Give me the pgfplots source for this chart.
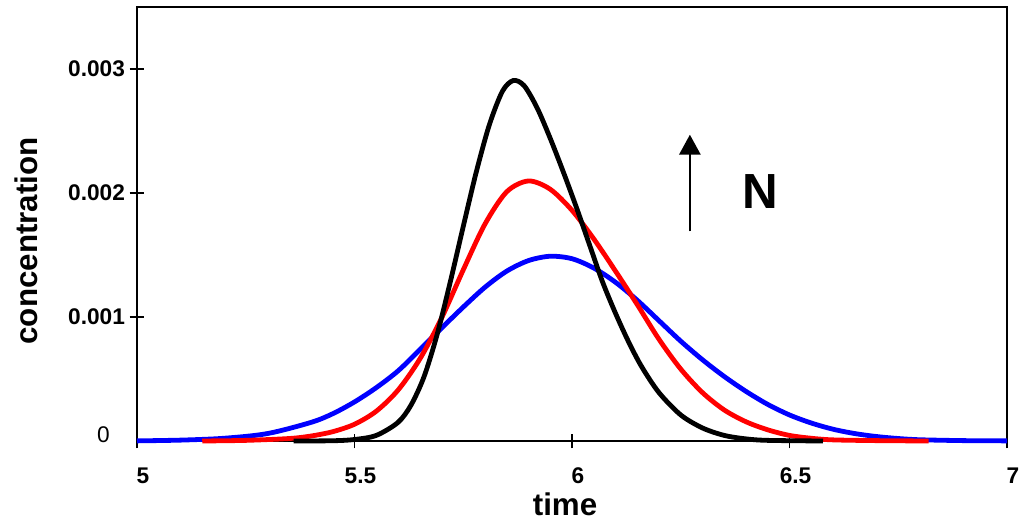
\documentclass[border=0pt]{standalone}
\usepackage{fontspec}
\setmainfont{Liberation Sans}
\usepackage{pgfplots}
\pgfplotsset{compat=1.18}
\usetikzlibrary{arrows.meta,calc}
\begin{document}
\begin{tikzpicture}
\begin{axis}[
scale only axis,
width=652.5pt, height=325.5pt,
xmin=5, xmax=7, ymin=0, ymax=0.0035,
clip=false,
scaled y ticks=false,
axis line style={line width=1.5pt},
tick style={line width=1.1pt, black},
tick align=center,
xtick pos=lower, ytick pos=left,
major tick length=11pt,
xtick={5,5.5,6,6.5,7},
xticklabels={5,5.5,6,6.5,7},
ytick={0.001,0.002,0.003},
yticklabels={0.001,0.002,0.003},
/pgf/number format/assume math mode=true,
ticklabel style={font=\fontsize{17}{20}\selectfont\bfseries},
xticklabel style={xshift=4.5pt, yshift=-11pt},
xlabel={time},
ylabel={concentration},
label style={font=\fontsize{23.5}{26}\selectfont\bfseries},
xlabel style={at={(axis description cs:0.492,-0.147)}, anchor=center},
ylabel style={at={(axis description cs:-0.1276,0.461)}, anchor=center},
]
% N = small (blue)
\addplot[blue, line width=3.6pt, smooth] coordinates {
(5.00,0.000001) (5.10,0.000007) (5.20,0.000022) (5.30,0.000060) (5.40,0.000150)
(5.45,0.000220) (5.50,0.000315) (5.55,0.000430) (5.60,0.000565) (5.65,0.000735)
(5.70,0.000910) (5.75,0.001080) (5.80,0.001240) (5.85,0.001370) (5.90,0.001455)
(5.95,0.001490) (6.00,0.001470) (6.05,0.001395) (6.10,0.001280) (6.15,0.001135)
(6.20,0.000970) (6.25,0.000805) (6.30,0.000655) (6.35,0.000520) (6.40,0.000400)
(6.45,0.000295) (6.50,0.000210) (6.55,0.000145) (6.60,0.000095) (6.65,0.000060)
(6.70,0.000036) (6.75,0.000020) (6.80,0.000010) (6.90,0.000003) (7.00,0.000001)};
% N = medium (red)
\addplot[red, line width=3.6pt, smooth] coordinates {
(5.15,0) (5.25,0.000005) (5.35,0.000020) (5.40,0.000040) (5.45,0.000075)
(5.50,0.000135) (5.55,0.000240) (5.60,0.000410) (5.65,0.000660) (5.70,0.000990)
(5.75,0.001380) (5.80,0.001750) (5.85,0.002010) (5.90,0.002097) (5.95,0.002030)
(6.00,0.001860) (6.05,0.001630) (6.10,0.001370) (6.15,0.001100) (6.20,0.000820)
(6.25,0.000580) (6.30,0.000390) (6.35,0.000250) (6.40,0.000155) (6.45,0.000090)
(6.50,0.000045) (6.55,0.000022) (6.60,0.000009) (6.70,0.000003) (6.82,0)};
% N = large (black)
\addplot[black, line width=3.6pt, smooth] coordinates {
(5.36,0) (5.45,0.000002) (5.50,0.000012) (5.55,0.000045) (5.60,0.000150)
(5.63,0.000290) (5.66,0.000520) (5.69,0.000860) (5.72,0.001280) (5.75,0.001730)
(5.78,0.002170) (5.81,0.002550) (5.84,0.002820) (5.865,0.002907) (5.89,0.002865)
(5.92,0.002685) (5.95,0.002440) (5.98,0.002170) (6.01,0.001885) (6.04,0.001585)
(6.07,0.001285) (6.10,0.001030) (6.13,0.000800) (6.16,0.000600) (6.20,0.000390)
(6.25,0.000210) (6.30,0.000105) (6.35,0.000045) (6.40,0.000017) (6.45,0.000005)
(6.577,0)};
\draw[line width=1.5pt, -{Triangle[width=16pt, length=15pt]}] (axis cs:6.271,0.00169) -- (axis cs:6.271,0.00247);
\node[font=\fontsize{37}{40}\selectfont\bfseries] at (axis cs:6.432,0.00201) {N};
\node[anchor=east, font=\fontsize{17}{20}\selectfont] at (axis cs:5,0) [xshift=-17pt, yshift=5pt] {0};
\coordinate (BL) at (rel axis cs:0,0);
\coordinate (TR) at (rel axis cs:1,1);
\end{axis}
\pgfresetboundingbox
\path (BL) ++(-102.75pt,-63.75pt) rectangle ($(TR)+(9.75pt,5.25pt)$);
\end{tikzpicture}
\end{document}
